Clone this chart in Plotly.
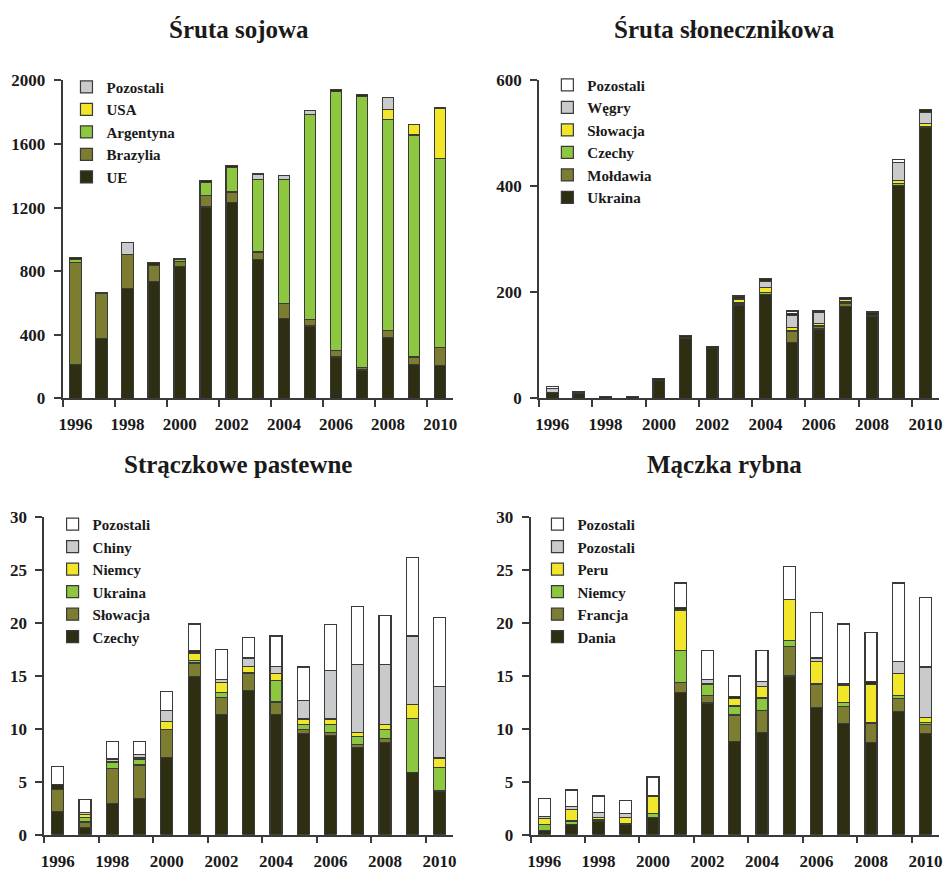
import plotly.graph_objects as go

years = [str(y) for y in range(1996, 2011)]

# Śruta sojowa (tys. t)
soy_names = ["UE", "Brazylia", "Argentyna", "USA", "Pozostali"]
soy_ue = [215, 375, 691, 736, 831, 1204, 1231, 876, 503, 455, 260, 178, 384, 215, 205]
soy_brazylia = [640, 288, 212, 99, 30, 72, 67, 45, 94, 39, 40, 17, 45, 45, 113]
soy_argentyna = [20, 0, 0, 0, 15, 80, 152, 457, 781, 1291, 1630, 1702, 1325, 1397, 1190]
soy_usa = [0, 0, 0, 0, 0, 0, 0, 0, 0, 0, 0, 0, 65, 66, 318]
soy_pozostali = [0, 0, 75, 0, 0, 0, 0, 33, 23, 26, 0, 0, 74, 0, 0]
soy_inne = [13, 0, 0, 22, 5, 16, 17, 0, 0, 0, 13, 13, 0, 0, 0]

# Śruta słonecznikowa (tys. t)
sun_names = ["Ukraina", "Mołdawia", "Czechy", "Słowacja", "Węgry", "Pozostali"]
sun_ukraina = [11, 10, 3, 3, 33, 114, 94, 176, 196, 106, 131, 174, 154, 401, 511]
sun_moldawia = [0, 0, 0, 0, 0, 0, 0, 1, 0, 20, 5, 6, 0, 0, 0]
sun_czechy = [0, 0, 0, 0, 0, 0, 0, 3, 4, 2, 2, 2, 0, 4, 2]
sun_slowacja = [0, 0, 0, 0, 0, 0, 0, 6, 9, 5, 3, 4, 3, 6, 6]
sun_wegry = [7, 0, 0, 0, 0, 0, 0, 3, 11, 23, 22, 0, 0, 34, 21]
sun_inne = [0, 2, 0, 0, 4, 5, 4, 4, 6, 4, 2, 5, 6, 0, 5]
sun_pozostali = [4, 0, 0, 0, 0, 0, 0, 0, 0, 5, 0, 0, 0, 6, 0]

# Strączkowe pastewne (tys. t)
leg_names = ["Czechy", "Słowacja", "Ukraina", "Niemcy", "Chiny", "Pozostali"]
leg_czechy = [2.2, 0.68, 2.92, 3.38, 7.29, 14.9, 11.35, 13.6, 11.35, 9.54, 9.35, 8.2, 8.68, 5.85, 4.06]
leg_slowacja = [2.08, 0.52, 3.36, 3.2, 2.61, 1.3, 1.63, 1.6, 1.17, 0.36, 0.31, 0.32, 0.37, 0.0, 0.14]
leg_ukraina = [0.0, 0.46, 0.55, 0.56, 0.0, 0.26, 0.47, 0.1, 2.0, 0.47, 0.71, 0.71, 0.85, 5.13, 2.17]
leg_niemcy = [0.0, 0.24, 0.1, 0.1, 0.78, 0.68, 0.92, 0.6, 0.71, 0.55, 0.55, 0.43, 0.47, 1.3, 0.86]
leg_chiny = [0.0, 0.16, 0.21, 0.3, 1.02, 0.0, 0.31, 0.78, 0.67, 1.76, 4.58, 6.4, 5.69, 6.46, 6.74]
leg_inne = [0.49, 0, 0, 0, 0, 0.24, 0, 0, 0, 0, 0, 0, 0, 0, 0]
leg_pozostali = [1.66, 1.29, 1.69, 1.29, 1.84, 2.5, 2.77, 1.9, 2.84, 3.14, 4.35, 5.48, 4.62, 7.38, 6.55]

# Mączka rybna (tys. t)
fish_names = ["Dania", "Francja", "Niemcy", "Peru", "Pozostali", "Pozostali"]
fish_dania = [0.43, 0.98, 1.23, 0.98, 1.66, 13.45, 12.43, 8.83, 9.66, 14.98, 12.0, 10.52, 8.68, 11.6, 9.54]
fish_francja = [0.0, 0.0, 0.1, 0.0, 0.0, 0.92, 0.71, 2.46, 2.09, 2.77, 2.15, 1.54, 1.84, 1.23, 0.83]
fish_niemcy = [0.55, 0.31, 0.1, 0.1, 0.31, 2.98, 1.06, 0.86, 1.14, 0.55, 0.1, 0.4, 0.1, 0.31, 0.21]
fish_peru = [0.56, 1.08, 0.23, 0.58, 1.69, 3.85, 0.1, 0.68, 1.08, 3.9, 2.12, 1.66, 3.58, 2.09, 0.47]
fish_pozostali1 = [0.21, 0.31, 0.4, 0.31, 0.0, 0.0, 0.38, 0.0, 0.46, 0.0, 0.31, 0.0, 0.0, 1.14, 4.77]
fish_inne = [0, 0, 0, 0, 0, 0.22, 0, 0.22, 0, 0, 0, 0.18, 0.23, 0, 0]
fish_pozostali2 = [1.63, 1.54, 1.6, 1.26, 1.79, 2.33, 2.67, 1.93, 2.92, 3.09, 4.3, 5.58, 4.62, 7.38, 6.55]

DARK = "#2e2e12"
OLIVE = "#7d7d32"
GREEN = "#8dc63f"
YELLOW = "#f1e62a"
GRAY = "#c9cacc"
WHITE = "#ffffff"
EDGE = "#3a3a3a"
TEXT = "#1a1a1a"
SERIF = "Liberation Serif"

W, H = 947, 877

# plot areas in pixels: (left, right, top, bottom)
areas = {
    1: (59, 453, 73, 398),
    2: (539.5, 942.7, 73, 398),
    3: (40.5, 453, 519, 844),
    4: (531, 943, 519, 844),
}

fig = go.Figure()


def inne_trace(vals, xa, ya, lg):
    return go.Bar(x=years, y=vals, name="Inne", xaxis=xa, yaxis=ya,
                  marker=dict(color=DARK, line=dict(color=EDGE, width=1.2)),
                  showlegend=False, legend=lg)


def add_stack(idx, names, series, colors, inne=None, inne_pos=None):
    xa = "x" if idx == 1 else f"x{idx}"
    ya = "y" if idx == 1 else f"y{idx}"
    lg = "legend" if idx == 1 else f"legend{idx}"
    order = list(zip(names, series, colors))
    for k, (name, vals, col) in enumerate(order):
        if inne is not None and k == inne_pos:
            fig.add_trace(inne_trace(inne, xa, ya, lg))
        fig.add_trace(go.Bar(x=years, y=vals, name=name, xaxis=xa, yaxis=ya, legend=lg,
                             marker=dict(color=col, line=dict(color=EDGE, width=1.2))))
    if inne is not None and inne_pos == len(order):
        fig.add_trace(inne_trace(inne, xa, ya, lg))


add_stack(1, soy_names,
          [soy_ue, soy_brazylia, soy_argentyna, soy_usa, soy_pozostali],
          [DARK, OLIVE, GREEN, YELLOW, GRAY], soy_inne, 5)
add_stack(2, sun_names,
          [sun_ukraina, sun_moldawia, sun_czechy, sun_slowacja, sun_wegry, sun_pozostali],
          [DARK, OLIVE, GREEN, YELLOW, GRAY, WHITE], sun_inne, 5)
add_stack(3, leg_names,
          [leg_czechy, leg_slowacja, leg_ukraina, leg_niemcy, leg_chiny, leg_pozostali],
          [DARK, OLIVE, GREEN, YELLOW, GRAY, WHITE], leg_inne, 5)
add_stack(4, fish_names,
          [fish_dania, fish_francja, fish_niemcy, fish_peru, fish_pozostali1, fish_pozostali2],
          [DARK, OLIVE, GREEN, YELLOW, GRAY, WHITE], fish_inne, 5)

tickfont = dict(family=SERIF, size=17, color=TEXT, weight="bold")
layout = dict(
    width=W, height=H,
    margin=dict(l=0, r=0, t=0, b=0),
    paper_bgcolor="white", plot_bgcolor="white",
    barmode="stack", bargap=0.56,
    font=dict(family=SERIF, color=TEXT),
)

y_ranges = {1: (0, 2000, 400), 2: (0, 600, 200), 3: (0, 30, 5), 4: (0, 30, 5)}
x_standoff = {1: 9, 2: 9, 3: 10, 4: 10}
for i, (l, r, t, b) in areas.items():
    sx = "" if i == 1 else str(i)
    layout[f"xaxis{sx}"] = dict(
        domain=[l / W, r / W], anchor=f"y{sx}", type="category",
        range=[-0.5, 14.5], tickmode="linear", tick0=0, dtick=2,
        tickson="boundaries", ticks="outside", ticklen=7, tickwidth=1.5,
        tickcolor=EDGE, showline=True, linecolor=EDGE, linewidth=1.5,
        showgrid=False, tickfont=tickfont, tickangle=0,
        ticklabelstandoff=x_standoff[i],
    )
    y0, y1, dt = y_ranges[i]
    layout[f"yaxis{sx}"] = dict(
        domain=[1 - b / H, 1 - t / H], anchor=f"x{sx}",
        range=[y0, y1], tickmode="linear", tick0=0, dtick=dt,
        ticks="outside", ticklen=7, tickwidth=1.5, tickcolor=EDGE,
        showline=True, linecolor=EDGE, linewidth=1.5,
        showgrid=False, zeroline=False, tickfont=tickfont, ticklabelstandoff=5,
    )

legend_pos = {1: (63, 63), 2: (548, 61), 3: (49, 510), 4: (538, 510)}
for i, (lx, ly) in legend_pos.items():
    key = "legend" if i == 1 else f"legend{i}"
    layout[key] = dict(
        x=lx / W, y=1 - ly / H, xanchor="left", yanchor="top",
        traceorder="reversed", bgcolor="rgba(0,0,0,0)", borderwidth=0,
        font=dict(family=SERIF, size=15, color=TEXT, weight="bold"),
        tracegroupgap=0, itemclick=False,
    )

titles = [
    ("Śruta sojowa", 237, 21),
    ("Śruta słonecznikowa", 727, 21),
    ("Strączkowe pastewne", 236, 466),
    ("Mączka rybna", 727, 466),
]
layout["annotations"] = [
    dict(text=txt, x=x / W, y=1 - y / H, xref="paper", yref="paper",
         xanchor="center", yanchor="middle", showarrow=False,
         font=dict(family=SERIF, size=25, color=TEXT, weight="bold"))
    for txt, x, y in titles
]

fig.update_layout(**layout)
fig.write_html("out.html")
